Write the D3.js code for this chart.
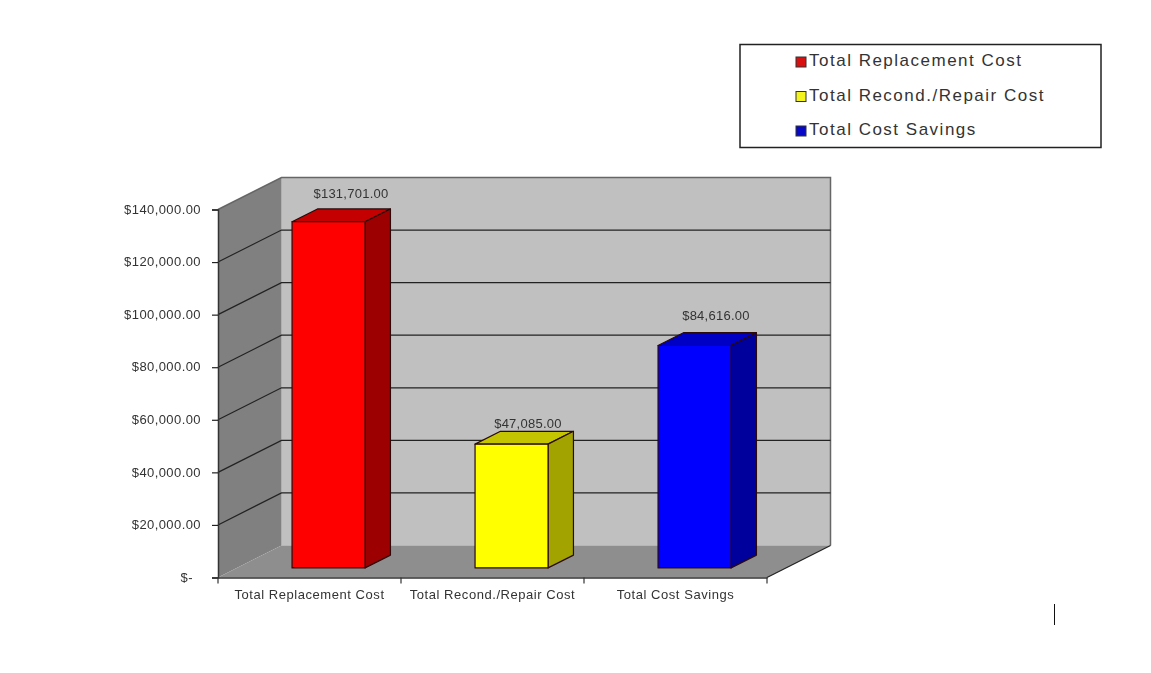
<!DOCTYPE html>
<html>
<head>
<meta charset="utf-8">
<script src="https://cdnjs.cloudflare.com/ajax/libs/d3/7.8.5/d3.min.js"></script>
<style>
  html, body { margin: 0; padding: 0; background: #fff; }
  svg { display: block; filter: blur(0.35px); }
  text { font-family: "Liberation Sans", Arial, sans-serif; fill: #333; }
</style>
</head>
<body>
<div id="chart"></div>
<script>
const categories = ['Total Replacement Cost', 'Total Recond./Repair Cost', 'Total Cost Savings'];
const values = [131701, 47085, 84616];
const valueLabels = ['$131,701.00', '$47,085.00', '$84,616.00'];
const tickValues = [0, 20000, 40000, 60000, 80000, 100000, 120000, 140000];
const tickLabels = ['$-', '$20,000.00', '$40,000.00', '$60,000.00', '$80,000.00', '$100,000.00', '$120,000.00', '$140,000.00'];
const frontColors = ['#ff0000', '#ffff00', '#0000ff'];
const topColors = ['#c40000', '#c4c400', '#0000c4'];
const sideColors = ['#9c0000', '#a3a300', '#00009c'];
const swatchColors = ['#d81010', '#f4f420', '#0808c8'];

const width = 1151, height = 673;
const svg = d3.select('#chart').append('svg').attr('width', width).attr('height', height);

const x = d3.scaleBand().domain(categories).range([218, 767]);
const y = d3.scaleLinear().domain([0, 140000]).range([577.5, 209.5]);
// oblique depth: 0 is the front of the box, 1 the back wall
const depth = d => [63.5 * d, -32 * d];
const pt = (px, py, d) => { const o = depth(d); return [px + o[0], py + o[1]]; };
const poly = pts => 'M' + pts.map(p => p.join(',')).join('L') + 'Z';
const line = pts => 'M' + pts.map(p => p.join(',')).join('L');

const x0 = x.range()[0], x1 = x.range()[1];
const yBase = y(0), yTop = y(140000);

// walls and floor
svg.append('path').attr('fill', '#c0c0c0')
  .attr('d', poly([pt(x0, yTop, 1), pt(x1, yTop, 1), pt(x1, yBase, 1), pt(x0, yBase, 1)]));
svg.append('path').attr('fill', '#808080')
  .attr('d', poly([pt(x0, yTop, 0), pt(x0, yTop, 1), pt(x0, yBase, 1), pt(x0, yBase, 0)]));
svg.append('path').attr('fill', '#8e8e8e')
  .attr('d', poly([pt(x0, yBase, 0), pt(x0, yBase, 1), pt(x1, yBase, 1), pt(x1, yBase, 0)]));

// outline of the back wall
svg.append('path').attr('fill', 'none').attr('stroke', '#666').attr('stroke-width', 1.5)
  .attr('d', line([pt(x0, yTop, 0), pt(x0, yTop, 1), pt(x1, yTop, 1), pt(x1, yBase, 1)]));

// gridlines
tickValues.filter(v => v > 0 && v < 140000).forEach(v => {
  svg.append('path').attr('fill', 'none').attr('stroke', '#222').attr('stroke-width', 1.2)
    .attr('d', line([pt(x0, y(v), 0), pt(x0, y(v), 1), pt(x1, y(v), 1)]));
});

// floor edge going back on the right
svg.append('path').attr('fill', 'none').attr('stroke', '#222').attr('stroke-width', 1.2)
  .attr('d', line([pt(x1, yBase, 0), pt(x1, yBase, 1)]));

// bars
const barWidth = 73, barFront = 0.3, barBack = 0.7;
categories.forEach((c, i) => {
  const left = x(c) + (x.step() - barWidth) / 2;
  const right = left + barWidth;
  const t = y(values[i]);
  const g = svg.append('g').attr('stroke', '#2a0a0a').attr('stroke-width', 1.2).attr('stroke-linejoin', 'round');
  g.append('path').attr('fill', topColors[i])
    .attr('d', poly([pt(left, t, barFront), pt(left, t, barBack), pt(right, t, barBack), pt(right, t, barFront)]));
  g.append('path').attr('fill', sideColors[i])
    .attr('d', poly([pt(right, t, barFront), pt(right, t, barBack), pt(right, yBase, barBack), pt(right, yBase, barFront)]));
  g.append('path').attr('fill', frontColors[i])
    .attr('d', poly([pt(left, t, barFront), pt(right, t, barFront), pt(right, yBase, barFront), pt(left, yBase, barFront)]));
});

// value labels sit a bit unevenly in the original
const labelNudge = [[-3, -15], [-9, -8], [-4, -17]];
categories.forEach((c, i) => {
  const left = x(c) + (x.step() - barWidth) / 2;
  const p = pt(left + barWidth / 2, y(values[i]), barBack);
  svg.append('text')
    .attr('x', p[0] + labelNudge[i][0])
    .attr('y', p[1] + labelNudge[i][1])
    .attr('dy', '0.35em')
    .attr('text-anchor', 'middle')
    .attr('font-size', 13)
    .attr('letter-spacing', 0.25)
    .text(valueLabels[i]);
});

// axes
const yAxis = d3.axisLeft(y).tickValues(tickValues).tickSize(6).tickPadding(11)
  .tickFormat((d, i) => tickLabels[i]);
const yG = svg.append('g').attr('transform', `translate(${x0},0)`).call(yAxis);
yG.selectAll('text').attr('font-size', 13).attr('letter-spacing', 0.42).attr('fill', '#333')
  .attr('font-family', '"Liberation Sans", Arial, sans-serif').attr('y', -0.5);
yG.selectAll('text').filter(d => d === 0).attr('dx', -8);
yG.select('.domain').attr('stroke', '#333').attr('stroke-width', 1.5);
yG.selectAll('.tick line').attr('stroke', '#222').attr('stroke-width', 1.2);

const xAxis = d3.axisBottom(x).tickSize(0).tickPadding(12);
const xG = svg.append('g').attr('transform', `translate(0,${yBase})`).call(xAxis);
xG.selectAll('text').attr('font-size', 13).attr('letter-spacing', 0.55).attr('fill', '#333')
  .attr('font-family', '"Liberation Sans", Arial, sans-serif');
xG.select('.domain').attr('stroke', '#333').attr('stroke-width', 1.5);
categories.concat([null]).forEach(c => {
  const px = c === null ? x1 : x(c);
  xG.append('line').attr('x1', px).attr('x2', px).attr('y1', 0).attr('y2', 6)
    .attr('stroke', '#333').attr('stroke-width', 1.2);
});

// legend
const legend = svg.append('g');
legend.append('rect').attr('x', 740).attr('y', 44.5).attr('width', 361).attr('height', 103)
  .attr('fill', '#fff').attr('stroke', '#222').attr('stroke-width', 1.5);
const legendY = d3.scalePoint().domain(categories).range([60.5, 129.5]);
categories.forEach((c, i) => {
  legend.append('rect').attr('x', 796).attr('y', legendY(c) - 3.5).attr('width', 10).attr('height', 10)
    .attr('fill', swatchColors[i]).attr('stroke', '#333').attr('stroke-width', 1);
  legend.append('text').attr('x', 809).attr('y', legendY(c)).attr('dy', '0.35em')
    .attr('font-size', 17).attr('letter-spacing', 1.5).attr('fill', '#333').text(c);
});

// stray cursor mark in the bottom right of the original
svg.append('line').attr('x1', 1054.5).attr('x2', 1054.5).attr('y1', 604).attr('y2', 625)
  .attr('stroke', '#111').attr('stroke-width', 1);
</script>
</body>
</html>
